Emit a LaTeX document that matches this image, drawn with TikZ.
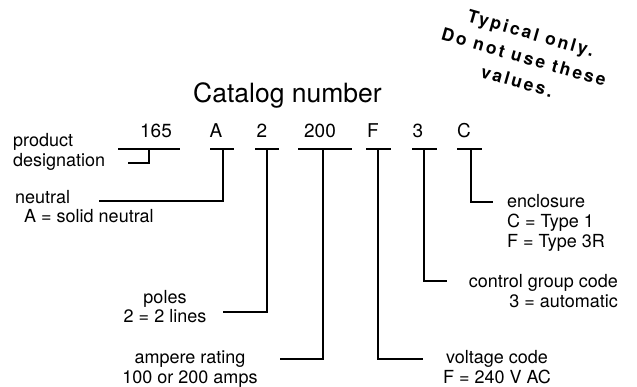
\documentclass[tikz,border=0pt]{standalone}
\usepackage{fontspec}
\setmainfont{TeX Gyre Heros}
\usepackage{tikz}

\tikzset{
    code/.style={anchor=base, inner sep=0pt, font=\fontsize{19}{22}\selectfont},
    desc/.style={inner sep=0pt, font=\fontsize{18}{20}\selectfont},
    leader/.style={line width=2.2pt}
}

\begin{document}
\begin{tikzpicture}[x=1pt,y=-1pt]
        \useasboundingbox (0,0) rectangle (637,387);

        % Stamp
        \node[rotate=-16, align=center, inner sep=0pt,
              font=\fontsize{17.5}{25}\selectfont\bfseries\addfontfeature{LetterSpace=14}]
              (stamp) at (524,57) {Typical only.\\Do not use these\\values.};

        % Title
        \node[anchor=base west, inner sep=0pt, font=\fontsize{26.5}{30}\selectfont]
              (cat) at (193,103) {Catalog number};

        % Code letters
        \node[code] (c165) at (156,138) {165};
        \node[code] (cA) at (216,138) {A};
        \node[code] (c2) at (262,138) {2};
        \node[code] (c200) at (320,138) {200};
        \node[code] (cF) at (373,138) {F};
        \node[code] (c3) at (418,138) {3};
        \node[code] (cC) at (464,138) {C};

        % Lines under the letters
        \draw[leader] (118,149) -- (180,149);
        \draw[leader] (210,149) -- (234,149);
        \draw[leader] (255,149) -- (279,149);
        \draw[leader] (298,149) -- (352,149);
        \draw[leader] (366,149) -- (391,149);
        \draw[leader] (412,149) -- (437,149);
        \draw[leader] (457,149) -- (482,149);
        \coordinate (u165) at (149,149);
        \coordinate (uA) at (223,149);
        \coordinate (u2) at (267,149);
        \coordinate (u200) at (323,149);
        \coordinate (uF) at (378,149);
        \coordinate (u3) at (424,149);
        \coordinate (uC) at (471,149);

        % Labels (base = last line)
        \node[desc, anchor=base west, align=left] (prod) at (13,167) {product\\designation};
        \node[desc, anchor=base west] (neut) at (15,204) {neutral};
        \node[desc, anchor=base west] (neutA) at (24,223) {A = solid neutral};
        \node[desc, anchor=base, align=center] (poles) at (165,323) {poles\\2 = 2 lines};
        \node[desc, anchor=base, align=center] (amps) at (190,383) {ampere rating\\100 or 200 amps};
        \node[desc, anchor=base, align=center] (volt) at (497,383) {voltage code\\F = 240 V AC};
        \node[desc, anchor=base east, align=right] (ctrl) at (618,307) {control group code\\3 = automatic};
        \node[desc, anchor=base west, align=left] (encl) at (507,248) {enclosure\\C = Type 1\\F = Type 3R};

        % Leader ends
        \coordinate (e165) at (128,163);
        \coordinate (eA) at (99,201);
        \coordinate (e2) at (223,312);
        \coordinate (e200) at (280,359);
        \coordinate (eF) at (423,359);
        \coordinate (e3) at (447,281);
        \coordinate (eC) at (493,202);

        % Leaders
        \draw[leader] (u165) |- (e165);
        \draw[leader] (uA) |- (eA);
        \draw[leader] (u2) |- (e2);
        \draw[leader] (u200) |- (e200);
        \draw[leader] (uF) |- (eF);
        \draw[leader] (u3) |- (e3);
        \draw[leader] (uC) |- (eC);
    \end{tikzpicture}
\end{document}
